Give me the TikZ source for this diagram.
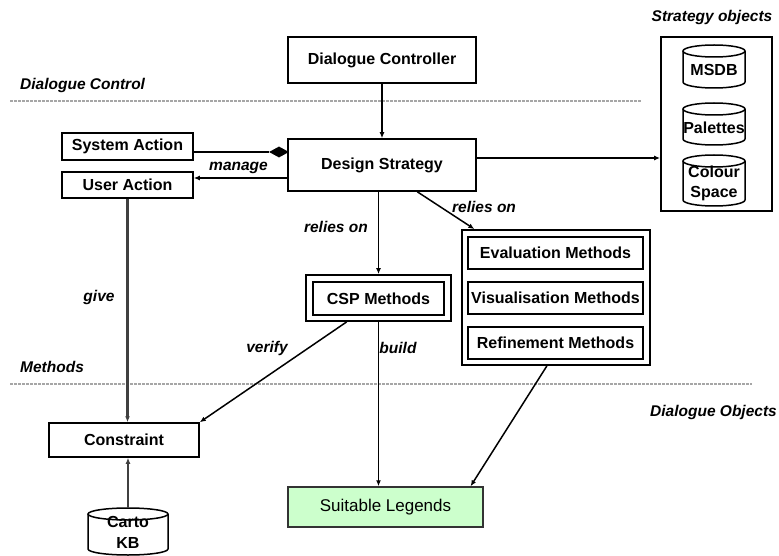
\documentclass[tikz,border=0pt]{standalone}
\usepackage{fontspec}
\setmainfont{Liberation Sans}
\usetikzlibrary{arrows.meta,shapes.geometric,calc}

% database drum outline: cx, top, bottom, half width
\newcommand{\drum}[4]{%
  \draw[drumline] (#1-#4,#2+6) -- (#1-#4,#3-6)
    arc[start angle=180,end angle=360,x radius=#4pt,y radius=6pt] -- (#1+#4,#2+6);
  \draw[drumline] (#1,#2+6) ellipse[x radius=#4pt,y radius=6pt];
}

\begin{document}
\begin{tikzpicture}[x=1pt,y=-1pt,
  box/.style={draw, line width=1.5pt, inner sep=0pt,
    font=\fontsize{16}{18}\selectfont\bfseries},
  grp/.style={draw, line width=1.8pt, inner sep=0pt},
  lbl/.style={inner sep=0pt, font=\fontsize{15.5}{17}\selectfont\bfseries\itshape},
  txt/.style={inner sep=0pt, font=\fontsize{16}{18}\selectfont\bfseries},
  drumline/.style={line width=1.5pt},
  link/.style={line width=1.5pt, -{Latex[length=6pt,width=5pt]}},
  heavy/.style={link, line width=2.2pt, black!75},
  sep/.style={gray!70, line width=1.5pt, dash pattern=on 3pt off 1pt},
]
\useasboundingbox (0,0) rectangle (779,556);

% layer separators
\draw[sep] (10,101) -- (641,101);
\draw[sep] (10,384) -- (752,384);

% layer labels
\node[lbl, anchor=west] (lctl) at (20,85) {Dialogue Control};
\node[lbl, anchor=west] (lmeth) at (20,367) {Methods};
\node[lbl, anchor=east] (lobj) at (777,412) {Dialogue Objects};
\node[lbl] (lstrat) at (712,17) {Strategy objects};

% control layer
\node[box, minimum width=188pt, minimum height=46pt] (dc) at (382,60) {Dialogue Controller};
\node[box, minimum width=188pt, minimum height=52pt] (ds) at (382,165) {Design Strategy};
\node[box, minimum width=131pt, minimum height=27pt] (sa) at (127.5,146.5) {System Action};
\node[box, minimum width=131pt, minimum height=26pt] (ua) at (127.5,185) {User Action};
\node[diamond, fill=black, inner sep=0pt, minimum width=20pt, minimum height=11pt] (dia) at (279,152) {};

% strategy objects
\node[grp, minimum width=111pt, minimum height=174pt] (so) at (716.5,124) {};
\drum{714}{45}{88}{31}
\drum{714}{103}{145}{31}
\drum{714}{155}{206}{31}
\node[txt] (msdb) at (714,70) {MSDB};
\node[txt] (pal) at (714,128) {Palettes};
\node[txt, align=center, font=\fontsize{16}{20}\selectfont\bfseries] (cs) at (714,183) {Colour\\Space};

% methods
\node[grp, minimum width=145pt, minimum height=46pt] (cspo) at (378.5,298) {};
\node[box, minimum width=131pt, minimum height=33pt] (csp) at (378.5,298.5) {CSP Methods};
\node[grp, minimum width=188pt, minimum height=135pt] (mg) at (556,297.5) {};
\node[box, minimum width=175pt, minimum height=32pt] (ev) at (555.5,253) {Evaluation Methods};
\node[box, minimum width=175pt, minimum height=32pt] (vis) at (555.5,298) {Visualisation Methods};
\node[box, minimum width=175pt, minimum height=32pt] (ref) at (555.5,343) {Refinement Methods};

% dialogue objects
\node[box, minimum width=150pt, minimum height=34pt] (con) at (124,440) {Constraint};
\node[draw=black!80, fill=green!20, line width=1.5pt, inner sep=0pt,
  minimum width=195pt, minimum height=40pt, font=\fontsize{17}{19}\selectfont] (sl) at (385.5,507) {Suitable Legends};
\drum{128}{508}{555}{40}
\node[txt, align=center, font=\fontsize{16}{21}\selectfont\bfseries] (kb) at (128,532) {Carto\\KB};
\coordinate (kbtop) at (128,508);

% connectors
\draw[link] (dc.south) -- (ds.north);
\draw[line width=1.5pt] (sa.east |- dia.west) -- (dia.west);
\draw[link] (ds.west |- 0,178) -- (ua.east |- 0,178);
\draw[link] (ds.east |- 0,158) -- (so.west |- 0,158);
\draw[link] (ds.south -| cspo.north) -- (cspo.north);
\draw[link] ($(ds.south west)!0.686!(ds.south east)$) -- ($(mg.north west)!0.07!(mg.north east)$);
\draw[link] ($(cspo.south west)!0.283!(cspo.south east)$) -- (con.north east);
\draw[link] (cspo.south) -- (cspo.south |- sl.north);
\draw[heavy] (ua.south) -- (ua.south |- con.north);
\draw[heavy] (kbtop) -- (kbtop |- con.south);
\draw[link] ($(mg.south west)!0.452!(mg.south east)$) -- ($(sl.north west)!0.933!(sl.north east)$);

% connector labels
\node[lbl, anchor=east] (lman) at (268,168) {manage};
\node[lbl, anchor=east] (lrel1) at (368,227) {relies on};
\node[lbl, anchor=west] (lrel2) at (452,207) {relies on};
\node[lbl] (lver) at (267,348) {verify};
\node[lbl] (lbld) at (398,348) {build};
\node[lbl] (lgive) at (99,297) {give};
\end{tikzpicture}
\end{document}
